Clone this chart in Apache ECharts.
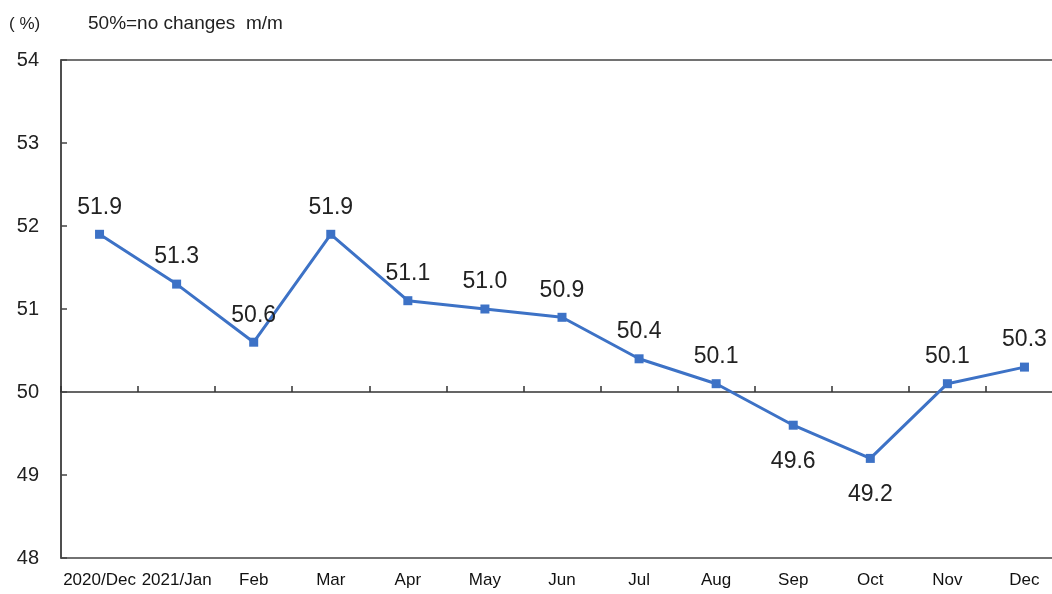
<!DOCTYPE html>
<html><head><meta charset="utf-8">
<script src="https://cdn.jsdelivr.net/npm/echarts@6/dist/echarts.min.js"></script>
<style>html,body{margin:0;padding:0;background:#fff}#c{width:1052px;height:594px}</style>
</head><body><div id="c"></div>
<script>
const categories = ['2020/Dec','2021/Jan','Feb','Mar','Apr','May','Jun','Jul','Aug','Sep','Oct','Nov','Dec'];
const values = [51.9, 51.3, 50.6, 51.9, 51.1, 51.0, 50.9, 50.4, 50.1, 49.6, 49.2, 50.1, 50.3];
const belowLabels = ['Sep','Oct'];
const yTicks = {min: 48, max: 54, interval: 1};
const unitText = '( %)';
const noteText = '50%=no changes  m/m';

const chart = echarts.init(document.getElementById('c'), null, {renderer: 'canvas'});
const data = values.map((v, i) => ({
  value: v,
  label: belowLabels.includes(categories[i]) ? {position: 'bottom', distance: 20} : {position: 'top', distance: 11}
}));
chart.setOption({
  animation: false,
  backgroundColor: '#fff',
  grid: {left: 61, top: 60, width: 1002, height: 498, show: true, borderColor: '#444', borderWidth: 1.5,
         containLabel: false, outerBoundsMode: 'none'},
  graphic: [
    {type: 'text', left: 9, top: 16, style: {text: unitText, font: '17px "Liberation Sans", Arial', fill: '#222'}},
    {type: 'text', left: 88, top: 14, style: {text: noteText, font: '19px "Liberation Sans", Arial', fill: '#222'}}
  ],
  xAxis: [
    {type: 'category', data: categories, boundaryGap: true, position: 'bottom',
     axisLine: {show: false}, axisTick: {show: false},
     axisLabel: {interval: 0, margin: 14, color: '#111', fontSize: 17, fontFamily: '"Liberation Sans", Arial'}},
    {type: 'category', data: categories, boundaryGap: true, position: 'bottom', offset: -166,
     axisLine: {show: true, lineStyle: {color: '#333', width: 1.5}},
     axisTick: {show: true, inside: true, length: 6, interval: 0, lineStyle: {color: '#333', width: 1.5}},
     axisLabel: {show: false}}
  ],
  yAxis: {type: 'value', min: yTicks.min, max: yTicks.max, interval: yTicks.interval,
    axisLine: {show: true, lineStyle: {color: '#444', width: 1.5}},
    axisTick: {show: true, inside: true, length: 6, lineStyle: {color: '#444', width: 1.5}},
    splitLine: {show: false},
    axisLabel: {margin: 22, color: '#222', fontSize: 20, fontFamily: '"Liberation Sans", Arial'}},
  series: [{
    type: 'line', data: data, xAxisIndex: 0,
    symbol: 'rect', symbolSize: 9, showAllSymbol: true,
    lineStyle: {color: '#3d72c6', width: 3},
    itemStyle: {color: '#3d72c6'},
    label: {show: true, color: '#222', fontSize: 23, fontFamily: '"Liberation Sans", Arial',
      formatter: p => p.value.toFixed(1)}
  }]
});
</script></body></html>
